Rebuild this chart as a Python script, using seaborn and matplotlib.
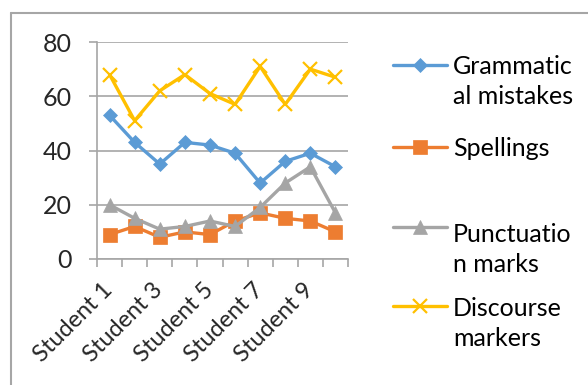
import matplotlib
matplotlib.use("Agg")
import matplotlib.pyplot as plt
from matplotlib.lines import Line2D
import matplotlib.transforms as mtransforms
import pandas as pd
import seaborn as sns

students = [f"Student {i}" for i in range(1, 11)]
grammatical = [53, 43, 35, 43, 42, 39, 28, 36, 39, 34]
spellings = [9, 12, 8, 10, 9, 14, 17, 15, 14, 10]
punctuation = [20, 15, 11, 12, 14, 12, 19, 28, 34, 17]
discourse = [68, 51, 62, 68, 61, 57, 71, 57, 70, 67]

series_names = ["Grammatical mistakes", "Spellings", "Punctuation marks", "Discourse markers"]
legend_labels = ["Grammatic\nal mistakes", "Spellings", "Punctuatio\nn marks", "Discourse\nmarkers"]
colors = ["#5B9BD5", "#ED7D31", "#A5A5A5", "#FFC000"]
markers = ["D", "s", "^", "x"]
marker_sizes = [7, 10, 10, 10]

sns.set_theme(style="white")
plt.rcParams["font.family"] = ["Lato", "DejaVu Sans"]
FS = 18

df = pd.DataFrame({
    "student": students * 4,
    "idx": list(range(10)) * 4,
    "value": grammatical + spellings + punctuation + discourse,
    "series": sum([[n] * 10 for n in series_names], []),
})

fig = plt.figure(figsize=(5.88, 3.85), dpi=100)
ax = fig.add_axes([97 / 588, 1 - 259 / 385, (348 - 97) / 588, (259 - 42) / 385])

for name, col, mk, ms in zip(series_names, colors, markers, marker_sizes):
    sub = df[df["series"] == name]
    sns.lineplot(data=sub, x="idx", y="value", ax=ax, color=col, lw=2.4,
                 marker=mk, markersize=ms, markeredgecolor=col,
                 markeredgewidth=1.6 if mk == "x" else 0.5, legend=False)

grid_c = "#A6A6A6"
ax.set_xlim(-0.5, 9.5)
ax.set_ylim(0, 80)
ax.set_yticks([0, 20, 40, 60, 80])
ax.yaxis.grid(True, color=grid_c, lw=1.2)
ax.set_axisbelow(True)
for s in ["top", "right"]:
    ax.spines[s].set_visible(False)
for s in ["left", "bottom"]:
    ax.spines[s].set_color(grid_c)
    ax.spines[s].set_linewidth(1.2)

ax.set_xticks([i - 0.5 for i in range(11)])
ax.set_xticklabels([])
ax.set_xticks(list(range(0, 10, 2)), minor=True)
ax.set_xticklabels([students[i] for i in range(0, 10, 2)], minor=True,
                   rotation=45, ha="right", va="center", rotation_mode="anchor",
                   fontsize=17)
shift = mtransforms.ScaledTranslation(10 / 100, -3 / 100, fig.dpi_scale_trans)
for lbl in ax.get_xticklabels(minor=True):
    lbl.set_transform(lbl.get_transform() + shift)
ax.tick_params(axis="x", which="major", length=6, width=1.2, color=grid_c, direction="out", bottom=True)
ax.tick_params(axis="x", which="minor", length=0, pad=20)
ax.tick_params(axis="y", length=6, width=1.2, color=grid_c, direction="out", left=True,
               labelsize=FS, pad=12)
ax.set_xlabel("")
ax.set_ylabel("")

# outer chart frame
fig.add_artist(Line2D([11 / 588, 11 / 588], [0, 1 - 13 / 385], transform=fig.transFigure, color=grid_c, lw=1.5))
fig.add_artist(Line2D([11 / 588, 1], [1 - 13 / 385, 1 - 13 / 385], transform=fig.transFigure, color=grid_c, lw=1.5))

# legend entries
entry_y = [65, 147, 227, 306]
text_y = [65, 147, 233, 307]
for y, ty, lab, col, mk, ms in zip(entry_y, text_y, legend_labels, colors, markers, marker_sizes):
    yf = 1 - y / 385
    fig.add_artist(Line2D([393 / 588, 447 / 588], [yf, yf], transform=fig.transFigure,
                          color=col, lw=2.4))
    fig.add_artist(Line2D([420 / 588], [yf], transform=fig.transFigure, color=col,
                          marker=mk, markersize=ms, markeredgecolor=col,
                          markeredgewidth=1.6 if mk == "x" else 0.5, lw=0))
    fig.text(453 / 588, 1 - (ty - 10) / 385, lab, fontsize=FS, va="top", ha="left",
             linespacing=1.38, color="black")

fig.savefig("out.png", dpi=100)
